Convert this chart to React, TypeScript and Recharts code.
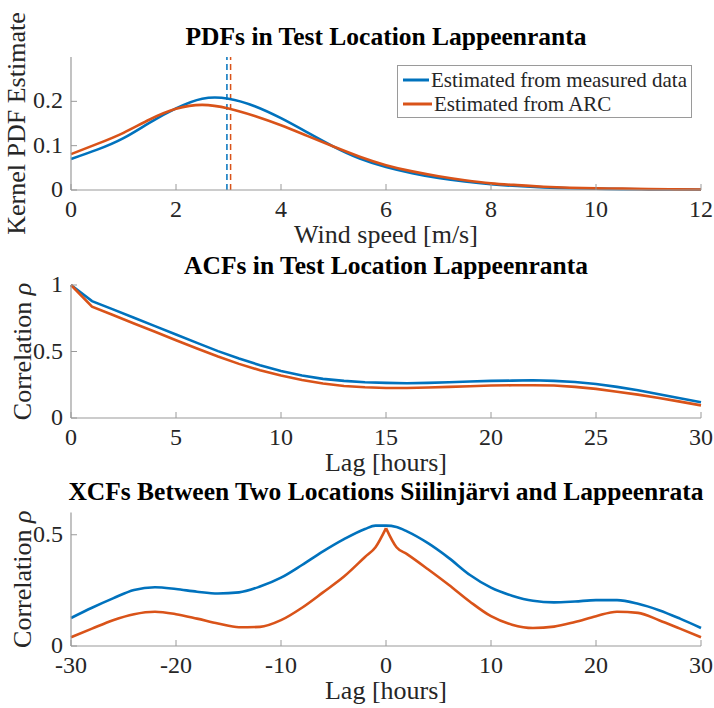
import React from 'react';
import { LineChart, Line, XAxis, YAxis, ReferenceLine, Legend } from 'recharts';

const BLUE = '#0072BD';
const ORANGE = '#D95319';
const AXIS = '#9a9a9a';
const TXT = '#262626';
const FONT = "'Liberation Serif', 'Times New Roman', serif";

// ---- PDF chart data ----
const pdfX = [0, 0.5, 1, 1.5, 2, 2.5, 3, 3.5, 4, 4.5, 5, 5.5, 6, 6.5, 7, 7.5, 8, 8.5, 9, 9.5, 10, 10.5, 11, 11.5, 12];
const pdfMeasured = [0.070, 0.091, 0.117, 0.152, 0.184, 0.206, 0.206, 0.189, 0.162, 0.130, 0.098, 0.071, 0.052, 0.038, 0.027, 0.019, 0.013, 0.009, 0.006, 0.004, 0.003, 0.002, 0.0015, 0.001, 0.0007];
const pdfArc = [0.081, 0.104, 0.129, 0.159, 0.183, 0.192, 0.184, 0.167, 0.146, 0.122, 0.098, 0.075, 0.056, 0.042, 0.031, 0.022, 0.015, 0.011, 0.0075, 0.005, 0.0037, 0.003, 0.002, 0.0015, 0.001];
const pdfMeanMeasured = 2.97;
const pdfMeanArc = 3.04;
const pdfXTicks = [0, 2, 4, 6, 8, 10, 12];
const pdfYTicks = [0, 0.1, 0.2];

// ---- ACF chart data ----
const acfLag = [0, 1, 2, 3, 4, 5, 6, 7, 8, 9, 10, 11, 12, 13, 14, 15, 16, 17, 18, 19, 20, 21, 22, 23, 24, 25, 26, 27, 28, 29, 30];
const acfMeasured = [1.0, 0.879, 0.817, 0.754, 0.691, 0.628, 0.565, 0.503, 0.447, 0.397, 0.354, 0.319, 0.294, 0.279, 0.269, 0.264, 0.261, 0.264, 0.269, 0.274, 0.279, 0.281, 0.284, 0.279, 0.271, 0.256, 0.234, 0.209, 0.178, 0.148, 0.118];
const acfArc = [1.0, 0.837, 0.774, 0.711, 0.648, 0.585, 0.523, 0.462, 0.407, 0.359, 0.319, 0.286, 0.259, 0.241, 0.231, 0.226, 0.226, 0.229, 0.234, 0.239, 0.244, 0.246, 0.246, 0.244, 0.234, 0.219, 0.198, 0.176, 0.151, 0.123, 0.095];
const acfXTicks = [0, 5, 10, 15, 20, 25, 30];
const acfYTicks = [0, 0.5, 1];

// ---- XCF chart data ----
const xcfLag = [-30, -28, -26, -24, -22, -20, -18, -16, -14, -12, -10, -8, -6, -4, -2, -1, 0, 1, 2, 4, 6, 8, 10, 12, 14, 16, 18, 20, 22, 24, 26, 28, 30];
const xcfMeasured = [0.126, 0.172, 0.214, 0.252, 0.264, 0.256, 0.244, 0.236, 0.241, 0.267, 0.307, 0.364, 0.425, 0.480, 0.526, 0.541, 0.541, 0.535, 0.515, 0.462, 0.395, 0.319, 0.262, 0.226, 0.203, 0.196, 0.200, 0.206, 0.206, 0.190, 0.161, 0.123, 0.081];
const xcfArc = [0.039, 0.078, 0.116, 0.143, 0.154, 0.143, 0.123, 0.101, 0.084, 0.086, 0.116, 0.172, 0.241, 0.312, 0.400, 0.444, 0.530, 0.444, 0.413, 0.345, 0.274, 0.199, 0.134, 0.096, 0.081, 0.087, 0.108, 0.134, 0.154, 0.149, 0.116, 0.078, 0.039];
const xcfXTicks = [-30, -20, -10, 0, 10, 20, 30];
const xcfYTicks = [0, 0.5];

const seriesNames = ['Estimated from measured data', 'Estimated from ARC'];
const titles = [
  'PDFs in Test Location Lappeenranta',
  'ACFs in Test Location Lappeenranta',
  'XCFs Between Two Locations Siilinjärvi and Lappeenrata',
];

const pdfData = pdfX.map((x, i) => ({ x, measured: pdfMeasured[i], arc: pdfArc[i] }));
const acfData = acfLag.map((x, i) => ({ x, measured: acfMeasured[i], arc: acfArc[i] }));
// The ARC cross-correlation has a cusp at lag 0: it is split into two halves that share the lag-0 value.
const xcfData = xcfLag.map((x, i) => ({
  x,
  measured: xcfMeasured[i],
  arcLeft: x <= 0 ? xcfArc[i] : null,
  arcRight: x >= 0 ? xcfArc[i] : null,
}));

const XTick = (props: any) => {
  const { x, y, payload } = props;
  return (
    <g>
      <line x1={x} x2={x} y1={y} y2={y - 6} stroke={AXIS} strokeWidth={1} />
      <text x={x} y={y + 27} textAnchor="middle" fontSize={24} fontFamily={FONT} fill={TXT}>
        {String(payload.value)}
      </text>
    </g>
  );
};

const YTick = (props: any) => {
  const { x, y, payload } = props;
  return (
    <g>
      <line x1={x} x2={x + 6} y1={y} y2={y} stroke={AXIS} strokeWidth={1} />
      <text x={x - 8} y={y + 7} textAnchor="end" fontSize={24} fontFamily={FONT} fill={TXT}>
        {String(payload.value)}
      </text>
    </g>
  );
};

const XLabel = (props: any) => {
  const { viewBox, text } = props;
  if (!viewBox) return null;
  return (
    <text x={viewBox.x + viewBox.width / 2} y={viewBox.y + 53} textAnchor="middle" fontSize={26} fontFamily={FONT} fill={TXT}>
      {text}
    </text>
  );
};

const YLabel = (props: any) => {
  const { viewBox, text, bx, italic } = props;
  if (!viewBox) return null;
  const cy = viewBox.y + viewBox.height / 2;
  return (
    <text transform={`translate(${bx},${cy}) rotate(-90)`} textAnchor="middle" fontSize={26} fontFamily={FONT} fill={TXT}>
      {text}
      {italic ? <tspan fontStyle="italic"> {italic}</tspan> : null}
    </text>
  );
};

const LegendBox = (props: any) => {
  const payload = (props.payload || []).slice().sort(
    (a: any, b: any) => seriesNames.indexOf(a.value) - seriesNames.indexOf(b.value)
  );
  return (
    <div
      style={{
        boxSizing: 'border-box',
        width: 295,
        height: 53,
        border: `1px solid ${AXIS}`,
        background: '#fff',
        padding: '2px 4px 2px 5px',
        fontFamily: FONT,
        fontSize: 21,
        color: TXT,
        lineHeight: '24px',
        whiteSpace: 'nowrap',
      }}
    >
      {payload.map((p: any) => (
        <div key={p.value} style={{ display: 'flex', alignItems: 'center', height: 24 }}>
          <svg width={29} height={24} style={{ display: 'block' }}>
            <line x1={0} x2={29} y1={12} y2={12} stroke={p.color} strokeWidth={3} />
          </svg>
          <span style={{ marginLeft: 2 }}>{p.value}</span>
        </div>
      ))}
    </div>
  );
};

const W = 714;
const MARGIN_L = 11;
const MARGIN_R = 13;
const YAXIS_W = 60;

const axisCommon = {
  interval: 0 as const,
  tickSize: 0,
  tickMargin: 0,
  tickLine: false,
  axisLine: { stroke: AXIS, strokeWidth: 1.2 },
};

export default function App() {
  return (
    <div style={{ position: 'absolute', left: 0, top: 0, width: 714, height: 708, background: '#fff', overflow: 'hidden' }}>
      {/* PDF chart */}
      <div style={{ position: 'absolute', left: 0, top: 0 }}>
        <LineChart width={W} height={250} data={pdfData} margin={{ top: 57, right: MARGIN_R, bottom: 30, left: MARGIN_L }}>
          <XAxis
            dataKey="x"
            type="number"
            domain={[0, 12]}
            ticks={pdfXTicks}
            {...axisCommon}
            tick={<XTick />}
            height={30}
            label={<XLabel text="Wind speed [m/s]" />}
          />
          <YAxis
            type="number"
            domain={[0, 0.3]}
            ticks={pdfYTicks}
            {...axisCommon}
            tick={<YTick />}
            width={YAXIS_W}
            label={<YLabel text="Kernel PDF Estimate" bx={25} />}
          />
          <ReferenceLine x={pdfMeanMeasured} stroke={BLUE} strokeWidth={1.5} strokeDasharray="6 4" />
          <ReferenceLine x={pdfMeanArc} stroke={ORANGE} strokeWidth={1.5} strokeDasharray="6 4" />
          <Line type="natural" dataKey="measured" name={seriesNames[0]} stroke={BLUE} strokeWidth={2.6} dot={false} isAnimationActive={false} />
          <Line type="natural" dataKey="arc" name={seriesNames[1]} stroke={ORANGE} strokeWidth={2.6} dot={false} isAnimationActive={false} />
          <Legend
            layout="vertical"
            align="center"
            verticalAlign="middle"
            content={<LegendBox />}
            wrapperStyle={{ position: 'absolute', top: 65, left: 397, width: 295, height: 53 }}
          />
        </LineChart>
      </div>

      {/* ACF chart */}
      <div style={{ position: 'absolute', left: 0, top: 250 }}>
        <LineChart width={W} height={230} data={acfData} margin={{ top: 35, right: MARGIN_R, bottom: 32, left: MARGIN_L }}>
          <XAxis
            dataKey="x"
            type="number"
            domain={[0, 30]}
            ticks={acfXTicks}
            {...axisCommon}
            tick={<XTick />}
            height={30}
            label={<XLabel text="Lag [hours]" />}
          />
          <YAxis
            type="number"
            domain={[0, 1]}
            ticks={acfYTicks}
            {...axisCommon}
            tick={<YTick />}
            width={YAXIS_W}
            label={<YLabel text="Correlation" italic="ρ" bx={31} />}
          />
          <Line type="linear" dataKey="measured" name={seriesNames[0]} stroke={BLUE} strokeWidth={2.6} dot={false} isAnimationActive={false} />
          <Line type="linear" dataKey="arc" name={seriesNames[1]} stroke={ORANGE} strokeWidth={2.6} dot={false} isAnimationActive={false} />
        </LineChart>
      </div>

      {/* XCF chart */}
      <div style={{ position: 'absolute', left: 0, top: 480 }}>
        <LineChart width={W} height={228} data={xcfData} margin={{ top: 32.5, right: MARGIN_R, bottom: 32, left: MARGIN_L }}>
          <XAxis
            dataKey="x"
            type="number"
            domain={[-30, 30]}
            ticks={xcfXTicks}
            {...axisCommon}
            tick={<XTick />}
            height={30}
            label={<XLabel text="Lag [hours]" />}
          />
          <YAxis
            type="number"
            domain={[0, 0.6]}
            ticks={xcfYTicks}
            {...axisCommon}
            tick={<YTick />}
            width={YAXIS_W}
            label={<YLabel text="Correlation" italic="ρ" bx={31} />}
          />
          <Line type="monotone" dataKey="measured" name={seriesNames[0]} stroke={BLUE} strokeWidth={2.6} dot={false} isAnimationActive={false} />
          <Line type="monotone" dataKey="arcLeft" name={seriesNames[1]} stroke={ORANGE} strokeWidth={2.6} dot={false} connectNulls={false} isAnimationActive={false} />
          <Line type="monotone" dataKey="arcRight" name={seriesNames[1]} stroke={ORANGE} strokeWidth={2.6} dot={false} connectNulls={false} isAnimationActive={false} />
        </LineChart>
      </div>

      {/* Titles */}
      <svg width={714} height={708} style={{ position: 'absolute', left: 0, top: 0, pointerEvents: 'none' }}>
        <text x={386} y={45} textAnchor="middle" fontSize={25.5} fontWeight="bold" fontFamily={FONT} fill="#000">{titles[0]}</text>
        <text x={386} y={274} textAnchor="middle" fontSize={25.5} fontWeight="bold" fontFamily={FONT} fill="#000">{titles[1]}</text>
        <text x={386} y={500} textAnchor="middle" fontSize={25.5} fontWeight="bold" fontFamily={FONT} fill="#000">{titles[2]}</text>
      </svg>
    </div>
  );
}
